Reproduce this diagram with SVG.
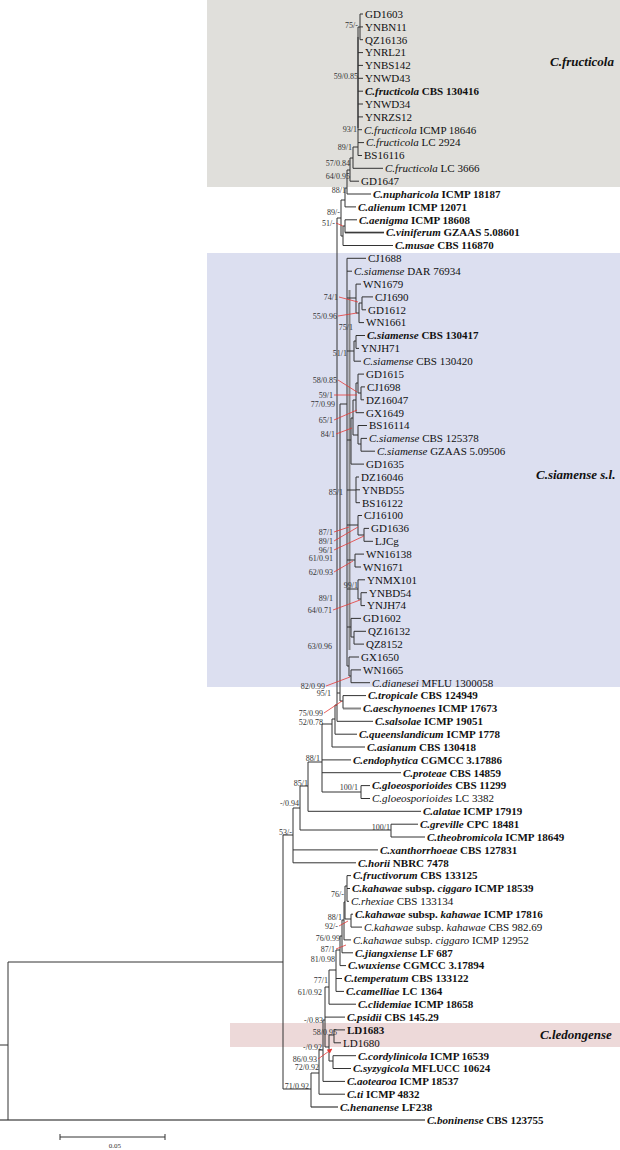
<svg xmlns="http://www.w3.org/2000/svg" width="620" height="1150" viewBox="0 0 620 1150">
<defs>
<marker id="ah" viewBox="0 0 6 6" refX="5.5" refY="3" markerWidth="5" markerHeight="5" orient="auto" markerUnits="userSpaceOnUse"><path d="M0,0L6,3L0,6z" fill="#e53935"/></marker>
<style>
.t{font-family:"Liberation Serif","Times New Roman",serif;font-size:11px;fill:#111}
.b{font-weight:bold}
.i{font-style:italic}
.s{font-family:"Liberation Serif","Times New Roman",serif;font-size:8px;fill:#333;text-anchor:end}
.cl{font-family:"Liberation Serif","Times New Roman",serif;font-size:13px;font-weight:bold;font-style:italic;fill:#111}
.br{fill:none;stroke:#333;stroke-width:1}
.gr{fill:none;stroke:#888;stroke-width:2}
.ar{fill:none;stroke:#e53935;stroke-width:0.8;marker-end:url(#ah)}
</style>
</defs>
<rect width="620" height="1150" fill="#fff"/>
<g id="boxes">
<rect x="207" y="0" width="413" height="187" fill="#e0dfdb"/>
<rect x="207" y="253" width="413" height="434" fill="#dcdff0"/>
<rect x="230" y="1023" width="390" height="24" fill="#edd9d9"/>
</g>
<g id="connectors">
<path class="gr" d="M358 37V128M349.5 290V650M345 232.6H384M343 708.4H361M311 1107.1H338M0 1120H425"/>
<path class="br" d="M360 14H363M360 26.9H363M360 39.7H363M358 52.6H363M358 65.4H363M358 78.3H363M358 91.2H363M358 104H363M358 116.9H363M358 129.7H362M358 142.6H364M358 155.5H362M353 168.3H383M350 181.2H359M347 194H371M345 206.9H356M345 219.8H357M345 232.6H384M343 245.5H393M347 258.3H366M347 271.2H352M356 284.1H361M362 296.9H373M362 309.8H366M359 322.6H364M356 335.5H365M356 348.4H359M354 361.2H361M358 374.1H364M361 386.9H365M361 399.8H364M356 412.7H364M358 425.5H367M361 438.4H367M361 451.2H375M351 464.1H364M356 477H359M356 489.8H360M356 502.7H360M358 515.5H362M364 528.4H369M364 541.3H373M355 554.1H364M355 567H361M358 579.8H365M361 592.7H367M361 605.6H365M351 618.4H361M354 631.3H366M354 644.1H364M349 657H359M351 669.9H361M351 682.7H370M343 695.6H366M337 721.3H373M335 734.2H357M332 747H365M322 759.9H351M322 772.7H401M361 785.6H370M361 798.5H370M308 811.3H421M391 824.2H418M391 837H425M293 849.9H378M293 862.8H356M347 875.6H351M347 888.5H350M347 901.3H349M351 914.2H353M351 927.1H362M344 939.9H351M342 952.8H353M340 965.6H346M336 978.5H342M336 991.4H344M329 1004.2H356M325 1017.1H345M334 1029.9H345M334 1042.8H341M333 1055.7H356M333 1068.5H351M323 1081.4H345M319 1094.2H345"/>
<path class="br" d="M360 14V39.7M358 27V155.5M353 147V168.3M350 158V181.2M347 170V194M345 188V206.9M341 200V236M343 226V245.5M345 219.8V232.6M337 218V721.3M340 404V701M343 695.6V708.4M347 258.3V666M356 284.1V313M359 303V322.6M362 296.9V309.8M354 341V361.2M356 335.5V348.4M358 374.1V393M361 386.9V399.8M356 383V412.7M353 400V435M358 425.5V444M361 438.4V451.2M351 418V464.1M356 477V502.7M358 515.5V535M364 528.4V541.3M355 554.1V567M358 579.8V599M361 592.7V605.6M351 618.4V637M354 631.3V644.1M349 657V676M351 669.9V682.7M335 705V734.2M332 719V747M322 724V792M361 785.6V798.5M308 762V811.3M300 786V830M391 824.2V837M293 808V862.8M283 835V1089M8 962V1120M351 914.2V927.1M347 875.6V901.3M345 886V919M344 902V939.9M342 920V952.8M340 936V965.6M336 950V991.4M329 970V1004.2M325 987V1047M329 1035V1061M334 1029.9V1042.8M333 1055.7V1068.5M323 1020V1081.4M319 1050V1094.2M311 1073V1107.1"/>
<path class="br" d="M358 27H360M353 147H358M350 158H353M347 170H350M345 188H347M341 200H345M337 218H341M341 236H343M343 226H345M335 705H337M337 693H340M340 701H343M340 404H347M347 298H356M356 313H359M359 303H362M347 351H354M354 341H356M356 383H358M358 393H361M353 400H356M351 418H353M353 435H358M358 444H361M347 440H351M347 490H356M347 525H358M358 535H364M347 560H355M347 589H358M358 599H361M347 627H351M351 637H354M347 666H349M349 676H351M332 719H335M322 724H332M308 762H322M322 792H361M300 786H308M293 808H300M300 830H391M283 835H293M8 962H283M0 1045H8M345 919H351M345 886H347M344 902H345M342 920H344M340 936H342M336 950H340M329 970H336M325 987H329M323 1020H325M325 1047H329M329 1035H334M329 1061H333M319 1050H323M311 1073H319M283 1089H311"/>
<path class="ar" d="M336 223L343 226M339 297L358 302M338 316L357 313M338 380L357 392M334 395L357 395M334 420L357 410M336 434L352 428M334 532L349 527M334 541L358 527M334 550L364 536M334 572L353 561M333 610L360 600M326 686L350 677M324 713L342 701M339 926L348 921M336 949L346 945M318 1059L332 1049"/>
</g>
<g id="supports">
<text class="s" x="358" y="27.8">75/-</text>
<text class="s" x="358" y="78.8">59/0.85</text>
<text class="s" x="357" y="131.8">93/1</text>
<text class="s" x="352" y="149.8">89/1</text>
<text class="s" x="350" y="165.8">57/0.84</text>
<text class="s" x="350" y="178.8">64/0.95</text>
<text class="s" x="346" y="192.8">88/1</text>
<text class="s" x="340" y="214.8">89/-</text>
<text class="s" x="335" y="225.8">51/-</text>
<text class="s" x="338" y="299.8">74/1</text>
<text class="s" x="337" y="318.8">55/0.96</text>
<text class="s" x="353" y="329.8">75/1</text>
<text class="s" x="347" y="355.8">51/1</text>
<text class="s" x="337" y="382.8">58/0.85</text>
<text class="s" x="333" y="397.8">59/1</text>
<text class="s" x="335" y="406.8">77/0.99</text>
<text class="s" x="333" y="422.8">65/1</text>
<text class="s" x="335" y="436.8">84/1</text>
<text class="s" x="343" y="494.8">85/1</text>
<text class="s" x="333" y="534.8">87/1</text>
<text class="s" x="333" y="543.8">89/1</text>
<text class="s" x="333" y="552.8">96/1</text>
<text class="s" x="333" y="560.8">61/0.91</text>
<text class="s" x="333" y="574.8">62/0.93</text>
<text class="s" x="358" y="587.8">99/1</text>
<text class="s" x="333" y="600.8">89/1</text>
<text class="s" x="332" y="612.8">64/0.71</text>
<text class="s" x="332" y="648.8">63/0.96</text>
<text class="s" x="325" y="688.8">82/0.99</text>
<text class="s" x="331" y="695.8">95/1</text>
<text class="s" x="323" y="715.8">75/0.99</text>
<text class="s" x="323" y="724.8">52/0.78</text>
<text class="s" x="320" y="760.8">88/1</text>
<text class="s" x="308" y="785.8">85/1</text>
<text class="s" x="358" y="789.8">100/1</text>
<text class="s" x="299" y="805.8">-/0.94</text>
<text class="s" x="390" y="829.8">100/1</text>
<text class="s" x="292" y="834.8">53/-</text>
<text class="s" x="344" y="896.8">76/-</text>
<text class="s" x="342" y="919.8">88/1</text>
<text class="s" x="338" y="928.8">92/-</text>
<text class="s" x="340" y="940.8">76/0.99</text>
<text class="s" x="335" y="951.8">87/1</text>
<text class="s" x="335" y="961.8">81/0.98</text>
<text class="s" x="328" y="982.8">77/1</text>
<text class="s" x="322" y="994.8">61/0.92</text>
<text class="s" x="323" y="1022.8">-/0.83</text>
<text class="s" x="337" y="1034.8">58/0.95</text>
<text class="s" x="322" y="1049.8">-/0.92</text>
<text class="s" x="317" y="1061.8">86/0.93</text>
<text class="s" x="319" y="1069.8">72/0.92</text>
<text class="s" x="309" y="1088.8">71/0.92</text>
</g>
<g id="leaves">
<g id="n0"><text class="t" x="365" y="17.8">GD1603</text></g>
<g id="n1"><text class="t" x="365" y="30.7">YNBN11</text></g>
<g id="n2"><text class="t" x="365" y="43.5">QZ16136</text></g>
<g id="n3"><text class="t" x="365" y="56.4">YNRL21</text></g>
<g id="n4"><text class="t" x="365" y="69.2">YNBS142</text></g>
<g id="n5"><text class="t" x="365" y="82.1">YNWD43</text></g>
<g id="n6"><text class="t b" x="365" y="95"><tspan class="i">C.fructicola</tspan> CBS 130416</text></g>
<g id="n7"><text class="t" x="365" y="107.8">YNWD34</text></g>
<g id="n8"><text class="t" x="365" y="120.7">YNRZS12</text></g>
<g id="n9"><text class="t" x="364" y="133.5"><tspan class="i">C.fructicola</tspan> ICMP 18646</text></g>
<g id="n10"><text class="t" x="366" y="146.4"><tspan class="i">C.fructicola</tspan> LC 2924</text></g>
<g id="n11"><text class="t" x="364" y="159.3">BS16116</text></g>
<g id="n12"><text class="t" x="385" y="172.1"><tspan class="i">C.fructicola</tspan> LC 3666</text></g>
<g id="n13"><text class="t" x="361" y="185">GD1647</text></g>
<g id="n14"><text class="t b" x="373" y="197.8"><tspan class="i">C.nupharicola</tspan> ICMP 18187</text></g>
<g id="n15"><text class="t b" x="358" y="210.7"><tspan class="i">C.alienum</tspan> ICMP 12071</text></g>
<g id="n16"><text class="t b" x="359" y="223.6"><tspan class="i">C.aenigma</tspan> ICMP 18608</text></g>
<g id="n17"><text class="t b" x="386" y="236.4"><tspan class="i">C.viniferum</tspan> GZAAS 5.08601</text></g>
<g id="n18"><text class="t b" x="395" y="249.3"><tspan class="i">C.musae</tspan> CBS 116870</text></g>
<g id="n19"><text class="t" x="368" y="262.1">CJ1688</text></g>
<g id="n20"><text class="t" x="354" y="275"><tspan class="i">C.siamense</tspan> DAR 76934</text></g>
<g id="n21"><text class="t" x="363" y="287.9">WN1679</text></g>
<g id="n22"><text class="t" x="375" y="300.7">CJ1690</text></g>
<g id="n23"><text class="t" x="368" y="313.6">GD1612</text></g>
<g id="n24"><text class="t" x="366" y="326.4">WN1661</text></g>
<g id="n25"><text class="t b" x="367" y="339.3"><tspan class="i">C.siamense</tspan> CBS 130417</text></g>
<g id="n26"><text class="t" x="361" y="352.2">YNJH71</text></g>
<g id="n27"><text class="t" x="363" y="365"><tspan class="i">C.siamense</tspan> CBS 130420</text></g>
<g id="n28"><text class="t" x="366" y="377.9">GD1615</text></g>
<g id="n29"><text class="t" x="367" y="390.7">CJ1698</text></g>
<g id="n30"><text class="t" x="366" y="403.6">DZ16047</text></g>
<g id="n31"><text class="t" x="366" y="416.5">GX1649</text></g>
<g id="n32"><text class="t" x="369" y="429.3">BS16114</text></g>
<g id="n33"><text class="t" x="369" y="442.2"><tspan class="i">C.siamense</tspan> CBS 125378</text></g>
<g id="n34"><text class="t" x="377" y="455"><tspan class="i">C.siamense</tspan> GZAAS 5.09506</text></g>
<g id="n35"><text class="t" x="366" y="467.9">GD1635</text></g>
<g id="n36"><text class="t" x="361" y="480.8">DZ16046</text></g>
<g id="n37"><text class="t" x="362" y="493.6">YNBD55</text></g>
<g id="n38"><text class="t" x="362" y="506.5">BS16122</text></g>
<g id="n39"><text class="t" x="364" y="519.3">CJ16100</text></g>
<g id="n40"><text class="t" x="371" y="532.2">GD1636</text></g>
<g id="n41"><text class="t" x="375" y="545.1">LJCg</text></g>
<g id="n42"><text class="t" x="366" y="557.9">WN16138</text></g>
<g id="n43"><text class="t" x="363" y="570.8">WN1671</text></g>
<g id="n44"><text class="t" x="367" y="583.6">YNMX101</text></g>
<g id="n45"><text class="t" x="369" y="596.5">YNBD54</text></g>
<g id="n46"><text class="t" x="367" y="609.4">YNJH74</text></g>
<g id="n47"><text class="t" x="363" y="622.2">GD1602</text></g>
<g id="n48"><text class="t" x="368" y="635.1">QZ16132</text></g>
<g id="n49"><text class="t" x="366" y="647.9">QZ8152</text></g>
<g id="n50"><text class="t" x="361" y="660.8">GX1650</text></g>
<g id="n51"><text class="t" x="363" y="673.7">WN1665</text></g>
<g id="n52"><text class="t" x="372" y="686.5"><tspan class="i">C.dianesei</tspan> MFLU 1300058</text></g>
<g id="n53"><text class="t b" x="368" y="699.4"><tspan class="i">C.tropicale</tspan> CBS 124949</text></g>
<g id="n54"><text class="t b" x="363" y="712.2"><tspan class="i">C.aeschynoenes</tspan> ICMP 17673</text></g>
<g id="n55"><text class="t b" x="375" y="725.1"><tspan class="i">C.salsolae</tspan> ICMP 19051</text></g>
<g id="n56"><text class="t b" x="359" y="738"><tspan class="i">C.queenslandicum</tspan> ICMP 1778</text></g>
<g id="n57"><text class="t b" x="367" y="750.8"><tspan class="i">C.asianum</tspan> CBS 130418</text></g>
<g id="n58"><text class="t b" x="353" y="763.7"><tspan class="i">C.endophytica</tspan> CGMCC 3.17886</text></g>
<g id="n59"><text class="t b" x="403" y="776.5"><tspan class="i">C.proteae</tspan> CBS 14859</text></g>
<g id="n60"><text class="t b" x="372" y="789.4"><tspan class="i">C.gloeosporioides</tspan> CBS 11299</text></g>
<g id="n61"><text class="t" x="372" y="802.3"><tspan class="i">C.gloeosporioides</tspan> LC 3382</text></g>
<g id="n62"><text class="t b" x="423" y="815.1"><tspan class="i">C.alatae</tspan> ICMP 17919</text></g>
<g id="n63"><text class="t b" x="420" y="828"><tspan class="i">C.greville</tspan> CPC 18481</text></g>
<g id="n64"><text class="t b" x="427" y="840.8"><tspan class="i">C.theobromicola</tspan> ICMP 18649</text></g>
<g id="n65"><text class="t b" x="380" y="853.7"><tspan class="i">C.xanthorrhoeae</tspan> CBS 127831</text></g>
<g id="n66"><text class="t b" x="358" y="866.6"><tspan class="i">C.horii</tspan> NBRC 7478</text></g>
<g id="n67"><text class="t b" x="353" y="879.4"><tspan class="i">C.fructivorum</tspan> CBS 133125</text></g>
<g id="n68"><text class="t b" x="352" y="892.3"><tspan class="i">C.kahawae</tspan> subsp. <tspan class="i">ciggaro</tspan> ICMP 18539</text></g>
<g id="n69"><text class="t" x="351" y="905.1"><tspan class="i">C.rhexiae</tspan> CBS 133134</text></g>
<g id="n70"><text class="t b" x="355" y="918"><tspan class="i">C.kahawae</tspan> subsp. <tspan class="i">kahawae</tspan> ICMP 17816</text></g>
<g id="n71"><text class="t" x="364" y="930.9"><tspan class="i">C.kahawae</tspan> subsp. <tspan class="i">kahawae</tspan> CBS 982.69</text></g>
<g id="n72"><text class="t" x="353" y="943.7"><tspan class="i">C.kahawae</tspan> subsp. <tspan class="i">ciggaro</tspan> ICMP 12952</text></g>
<g id="n73"><text class="t b" x="355" y="956.6"><tspan class="i">C.jiangxiense</tspan> LF 687</text></g>
<g id="n74"><text class="t b" x="348" y="969.4"><tspan class="i">C.wuxiense</tspan> CGMCC 3.17894</text></g>
<g id="n75"><text class="t b" x="344" y="982.3"><tspan class="i">C.temperatum</tspan> CBS 133122</text></g>
<g id="n76"><text class="t b" x="346" y="995.2"><tspan class="i">C.camelliae</tspan> LC 1364</text></g>
<g id="n77"><text class="t b" x="358" y="1008"><tspan class="i">C.clidemiae</tspan> ICMP 18658</text></g>
<g id="n78"><text class="t b" x="347" y="1020.9"><tspan class="i">C.psidii</tspan> CBS 145.29</text></g>
<g id="n79"><text class="t b" x="347" y="1033.7">LD1683</text></g>
<g id="n80"><text class="t" x="343" y="1046.6">LD1680</text></g>
<g id="n81"><text class="t b" x="358" y="1059.5"><tspan class="i">C.cordylinicola</tspan> ICMP 16539</text></g>
<g id="n82"><text class="t b" x="353" y="1072.3"><tspan class="i">C.syzygicola</tspan> MFLUCC 10624</text></g>
<g id="n83"><text class="t b" x="347" y="1085.2"><tspan class="i">C.aotearoa</tspan> ICMP 18537</text></g>
<g id="n84"><text class="t b" x="347" y="1098"><tspan class="i">C.ti</tspan> ICMP 4832</text></g>
<g id="n85"><text class="t b" x="340" y="1110.9"><tspan class="i">C.henanense</tspan> LF238</text></g>
<g id="n86"><text class="t b" x="427" y="1123.8"><tspan class="i">C.boninense</tspan> CBS 123755</text></g>
</g>
<g id="clades">
<text class="cl" x="550" y="66">C.fructicola</text>
<text class="cl" x="536" y="479">C.siamense s.l.</text>
<text class="cl" x="540" y="1039">C.ledongense</text>
</g>
<g id="scale">
<path class="br" d="M60 1137H165M60 1134V1140M165 1134V1140"/>
<text class="s" x="121" y="1148" style="font-size:7px">0.05</text>
</g>
</svg>
